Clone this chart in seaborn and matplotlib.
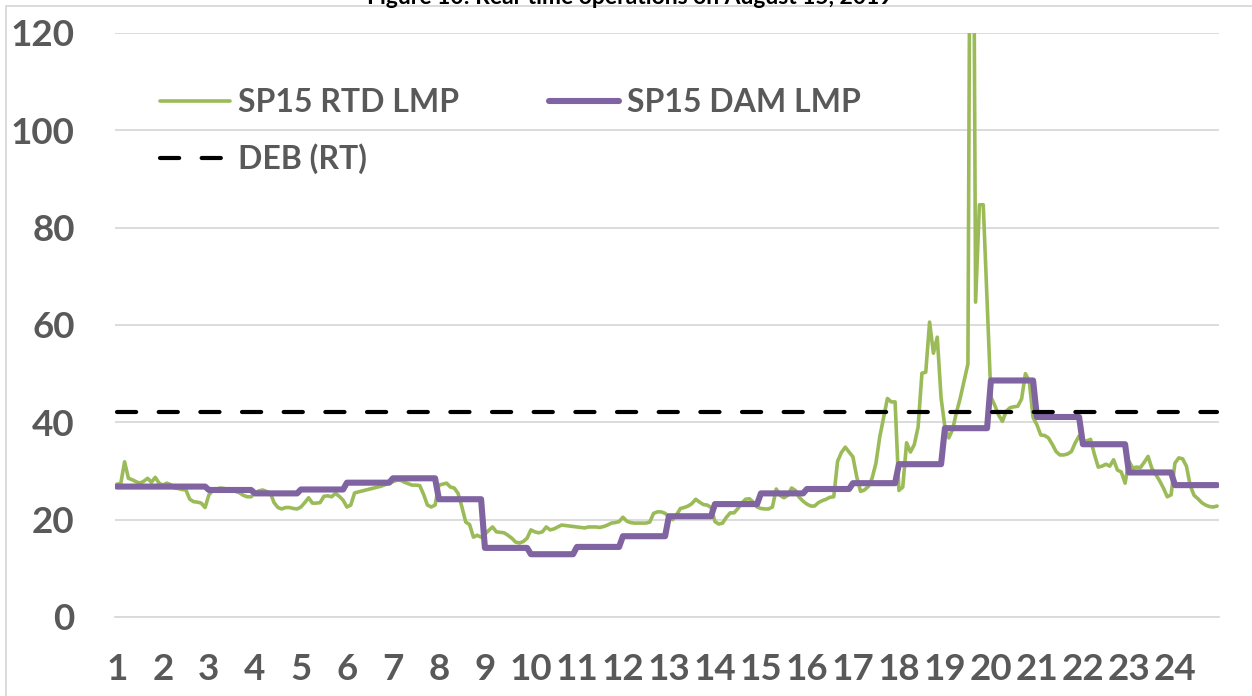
import numpy as np
import pandas as pd
import matplotlib
matplotlib.use("Agg")
import matplotlib.pyplot as plt
from matplotlib.patches import Rectangle
import seaborn as sns

# ---------------- data ----------------
hour_labels = [str(h) for h in range(1, 25)]

# Day-ahead (DAM) hourly LMP, $/MWh
dam_hourly = [26.8, 26.8, 26.1, 25.4, 26.2, 27.6, 28.5, 24.2, 14.2, 12.9, 14.4, 16.6,
              20.7, 23.2, 25.4, 26.3, 27.5, 31.4, 38.8, 48.6, 41.1, 35.5, 29.7, 27.1]

# Real-time dispatch (RTD) 5-minute LMP, $/MWh (12 intervals per hour)
rtd_5min = [
    27.3, 27.4, 31.9, 28.5, 28.2, 27.8, 27.5, 27.9, 28.5, 27.7, 28.7, 27.5,   # HE1
    27.1, 27.5, 27.2, 26.5, 26.4, 26.2, 26.1, 24.2, 23.7, 23.6, 23.4, 22.5,   # HE2
    25.1, 26.0, 26.3, 26.5, 26.4, 26.2, 26.1, 25.8, 25.5, 25.0, 24.7, 24.7,   # HE3
    25.5, 25.9, 26.1, 25.8, 25.5, 23.5, 22.5, 22.2, 22.5, 22.5, 22.3, 22.2,   # HE4
    22.6, 23.5, 24.5, 23.4, 23.4, 23.5, 24.8, 24.9, 24.7, 25.4, 24.8, 24.0,   # HE5
    22.6, 23.0, 25.5, 25.7, 25.9, 26.1, 26.3, 26.5, 26.7, 26.9, 27.2, 27.5,   # HE6
    27.8, 28.1, 28.1, 27.7, 27.4, 27.1, 27.1, 27.0, 25.2, 23.0, 22.6, 23.0,   # HE7
    27.1, 27.3, 27.5, 26.7, 26.5, 25.4, 22.6, 19.5, 19.0, 16.4, 16.8, 16.4,   # HE8
    17.0, 17.8, 18.5, 17.5, 17.4, 17.3, 16.8, 16.2, 15.4, 15.2, 15.5, 16.2,   # HE9
    17.9, 17.5, 17.3, 17.5, 18.5, 17.9, 18.1, 18.5, 18.9, 18.8, 18.7, 18.6,   # HE10
    18.5, 18.4, 18.3, 18.5, 18.5, 18.5, 18.4, 18.6, 18.9, 19.3, 19.4, 19.6,   # HE11
    20.5, 19.7, 19.4, 19.3, 19.3, 19.3, 19.3, 19.5, 21.3, 21.6, 21.6, 21.3,   # HE12
    20.6, 20.0, 21.0, 22.3, 22.5, 22.8, 23.3, 24.2, 23.6, 23.1, 23.0, 22.5,   # HE13
    19.6, 19.1, 19.3, 20.5, 21.4, 21.4, 22.3, 23.4, 24.2, 24.3, 23.6, 22.6,   # HE14
    22.3, 22.2, 22.2, 22.6, 26.3, 25.0, 24.5, 25.0, 26.5, 26.0, 24.6, 23.8,   # HE15
    23.2, 22.8, 22.8, 23.5, 23.9, 24.2, 24.6, 24.7, 32.0, 33.8, 34.9, 33.9,   # HE16
    32.9, 28.8, 25.8, 26.1, 26.8, 28.5, 31.6, 37.0, 41.0, 44.9, 44.2, 44.2,   # HE17
    26.0, 26.7, 35.8, 33.9, 35.4, 39.0, 50.1, 50.3, 60.6, 54.2, 57.5, 45.0,   # HE18
    39.0, 36.8, 38.5, 42.0, 45.0, 48.5, 52.0, 230.0, 64.7, 84.7, 84.7, 65.0,  # HE19
    45.2, 43.5, 41.5, 40.2, 42.3, 43.0, 43.2, 43.3, 44.8, 50.0, 48.5, 41.0,   # HE20
    39.5, 37.4, 37.3, 36.8, 35.5, 34.0, 33.3, 33.3, 33.5, 34.0, 35.8, 37.2,   # HE21
    36.0, 36.2, 36.5, 33.4, 30.8, 31.0, 31.4, 31.0, 32.3, 30.2, 29.8, 27.5,   # HE22
    32.0, 30.6, 30.8, 30.7, 31.8, 33.0, 30.5, 29.3, 28.0, 26.5, 24.7, 25.1,   # HE23
    31.6, 32.7, 32.5, 31.0, 27.0, 25.0, 24.3, 23.5, 23.0, 22.7, 22.6, 22.8,   # HE24
]

deb_rt = 42.2  # default energy bid (RT)

series_names = ["SP15 RTD LMP", "SP15 DAM LMP", "DEB (RT)"]
title_text = "Figure 10: Real-time operations on August 15, 2019"

# ---------------- build frame ----------------
n = len(rtd_5min)
df = pd.DataFrame({
    "interval": np.arange(n),
    "rtd": rtd_5min,
    "dam": np.repeat(dam_hourly, n // len(dam_hourly)),
    "deb": np.full(n, deb_rt),
})

# ---------------- style ----------------
sns.set_theme(style="white")
plt.rcParams["font.family"] = ["Lato", "DejaVu Sans"]
plt.rcParams["font.weight"] = "bold"

W, H = 1252, 696
fig = plt.figure(figsize=(W / 100, H / 100), dpi=100)
ax = fig.add_axes([115 / W, 1 - 617 / H, (1219 - 115) / W, (617 - 33) / H])

green = "#9BBB59"
purple = "#8064A2"
grey_txt = "#595959"
grid_c = "#D9D9D9"

sns.lineplot(data=df, x="interval", y="rtd", ax=ax, color=green, linewidth=2.6,
             label=series_names[0], zorder=2)
sns.lineplot(data=df, x="interval", y="dam", ax=ax, color=purple, linewidth=4.4,
             label=series_names[1], zorder=3)
sns.lineplot(data=df, x="interval", y="deb", ax=ax, color="black", linewidth=3.0,
             label=series_names[2], zorder=4)

lines = ax.get_lines()
for ln in lines:
    ln.set_solid_capstyle("round")
    ln.set_solid_joinstyle("round")
deb_line = lines[2]
deb_line.set_dashes([4.6, 5.4])
deb_line.set_dash_capstyle("round")

ax.set_xlim(-0.5, n - 0.5)
ax.set_ylim(0, 120)
ax.set_yticks(np.arange(0, 121, 20))
ax.set_xticks(np.arange(0, n, 12))
ax.set_xticklabels(hour_labels)
ax.set_xlabel("")
ax.set_ylabel("")

ax.yaxis.grid(True, color=grid_c, linewidth=1.3)
ax.xaxis.grid(False)
ax.set_axisbelow(True)
for s in ["left", "right", "top"]:
    ax.spines[s].set_visible(False)
ax.spines["bottom"].set_color(grid_c)
ax.spines["bottom"].set_linewidth(1.3)

ax.tick_params(axis="y", length=0, pad=29, labelsize=26.5, labelcolor=grey_txt)
ax.tick_params(axis="x", length=0, pad=26, labelsize=26.5, labelcolor=grey_txt)
for lab in ax.get_xticklabels() + ax.get_yticklabels():
    lab.set_fontweight("bold")

# legend: column 1 = RTD, DEB ; column 2 = DAM
h, l = ax.get_legend_handles_labels()
order = [0, 2, 1]
leg = ax.legend([h[i] for i in order], [l[i] for i in order], ncol=2,
                loc="upper left", bbox_to_anchor=(160 / W, 1 - 88 / H),
                bbox_transform=fig.transFigure, frameon=False,
                borderpad=0, borderaxespad=0, handlelength=2.2, handletextpad=0.25,
                columnspacing=2.8, labelspacing=0.82,
                prop={"size": 23, "weight": "bold"})
for t in leg.get_texts():
    t.set_color(grey_txt)
for lh in leg.get_lines():
    lh.set_solid_capstyle("round")
    lh.set_dash_capstyle("round")

# chart frame (only left and top edges fall inside the picture) and clipped title
fig.patches.append(Rectangle((6 / W, -0.2), 2.0, 1.2 - 6 / H, transform=fig.transFigure,
                             fill=False, edgecolor=grid_c, linewidth=1.3))
fig.text(630 / W, 1 - 4 / H, title_text, ha="center", va="baseline",
         fontsize=16.5, fontweight="bold", color="black")

fig.savefig("out.png", dpi=100)
